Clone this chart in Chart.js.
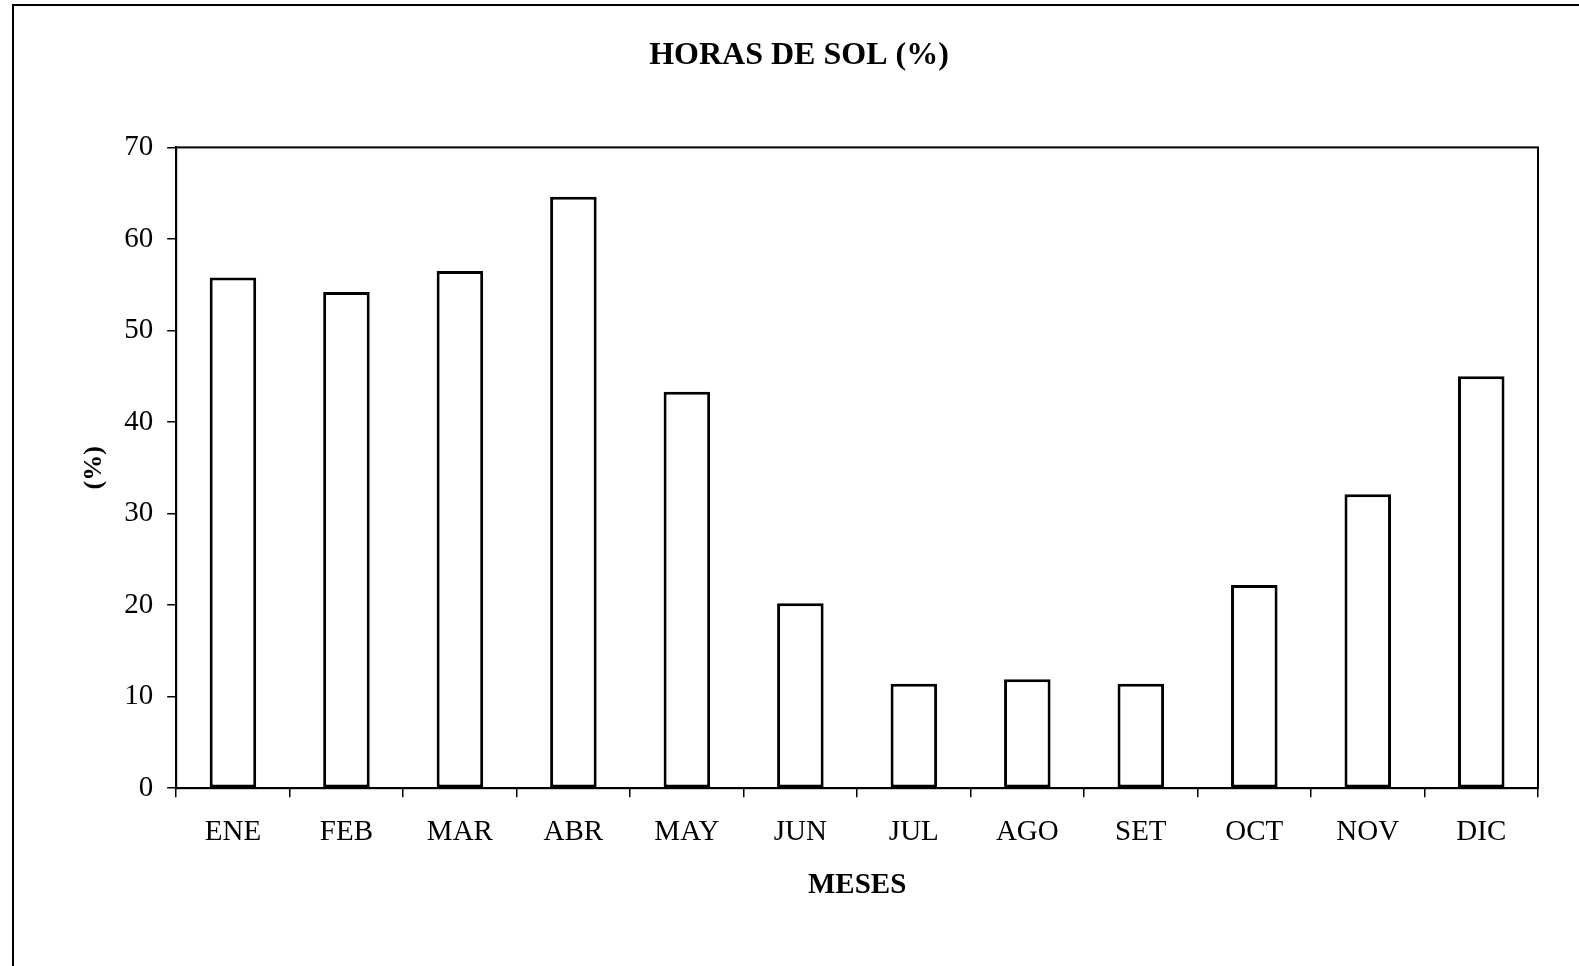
<!DOCTYPE html>
<html>
<head>
<meta charset="utf-8">
<script src="https://cdn.jsdelivr.net/npm/chart.js@4.4.1/dist/chart.umd.min.js"></script>
<style>
  html, body { margin: 0; padding: 0; background: #fff; }
  #wrap { position: relative; width: 1579px; height: 966px; }
  #chart { position: absolute; left: 0; top: 0; }
  #frame {
    position: absolute; left: 12px; top: 4px; right: -5px; bottom: -5px;
    border-left: 2px solid #000; border-top: 2px solid #000;
    pointer-events: none;
  }
</style>
</head>
<body>
<div id="wrap">
  <canvas id="chart" width="1579" height="966"></canvas>
  <div id="frame"></div>
</div>
<script>
const meses = ['ENE', 'FEB', 'MAR', 'ABR', 'MAY', 'JUN', 'JUL', 'AGO', 'SET', 'OCT', 'NOV', 'DIC'];
const horasSol = [55.8, 54.2, 56.5, 64.6, 43.3, 20.2, 11.4, 11.9, 11.4, 22.2, 32.1, 45.0];
const yTicks = [0, 10, 20, 30, 40, 50, 60, 70];

const serif = "'Liberation Serif', 'Times New Roman', serif";

// box round the plot area (top and right sides too)
const plotBox = {
  id: 'plotBox',
  beforeDatasetsDraw(chart) {
    const a = chart.chartArea;
    const ctx = chart.ctx;
    ctx.save();
    ctx.strokeStyle = '#000';
    ctx.lineWidth = 2;
    ctx.strokeRect(a.left, a.top, a.right - a.left, a.bottom - a.top);
    ctx.restore();
  }
};

const ctx = document.getElementById('chart').getContext('2d');
new Chart(ctx, {
  type: 'bar',
  data: {
    labels: meses,
    datasets: [
      {
        label: 'Horas de sol',
        data: horasSol,
        backgroundColor: '#fff',
        borderColor: '#000',
        borderWidth: 3,
        borderSkipped: false,
        categoryPercentage: 1,
        barPercentage: 0.41,
      },
    ],
  },
  options: {
    responsive: false,
    animation: false,
    layout: {
      padding: { left: 60, right: 41, top: 0, bottom: 63 },
    },
    plugins: {
      legend: { display: false },
      tooltip: { enabled: false },
      title: {
        display: true,
        text: 'HORAS DE SOL (%)',
        color: '#000',
        font: { family: serif, size: 32, weight: 'bold' },
        padding: { top: 37, bottom: 72 },
      },
    },
    scales: {
      x: {
        grid: { drawOnChartArea: false, drawTicks: true, tickLength: 9, color: '#000', lineWidth: 1.5 },
        border: { display: true, color: '#000', width: 2 },
        ticks: { color: '#000', font: { family: serif, size: 29, lineHeight: 1.0 }, padding: 21, maxRotation: 0 },
        title: {
          display: true,
          text: 'MESES',
          color: '#000',
          font: { family: serif, size: 29, weight: 'bold' },
          padding: { top: 0, bottom: 0 },
        },
      },
      y: {
        min: 0,
        max: 70,
        afterBuildTicks: (axis) => { axis.ticks = yTicks.map((v) => ({ value: v })); },
        grid: { drawOnChartArea: false, drawTicks: true, tickLength: 9, color: '#000', lineWidth: 1.5 },
        border: { display: true, color: '#000', width: 2 },
        ticks: { color: '#000', font: { family: serif, size: 29 }, padding: 14 },
        title: {
          display: true,
          text: '(%)',
          color: '#000',
          font: { family: serif, size: 26, weight: 'bold' },
          padding: { top: 19, bottom: 0 },
        },
      },
    },
  },
  plugins: [plotBox],
});
</script>
</body>
</html>
